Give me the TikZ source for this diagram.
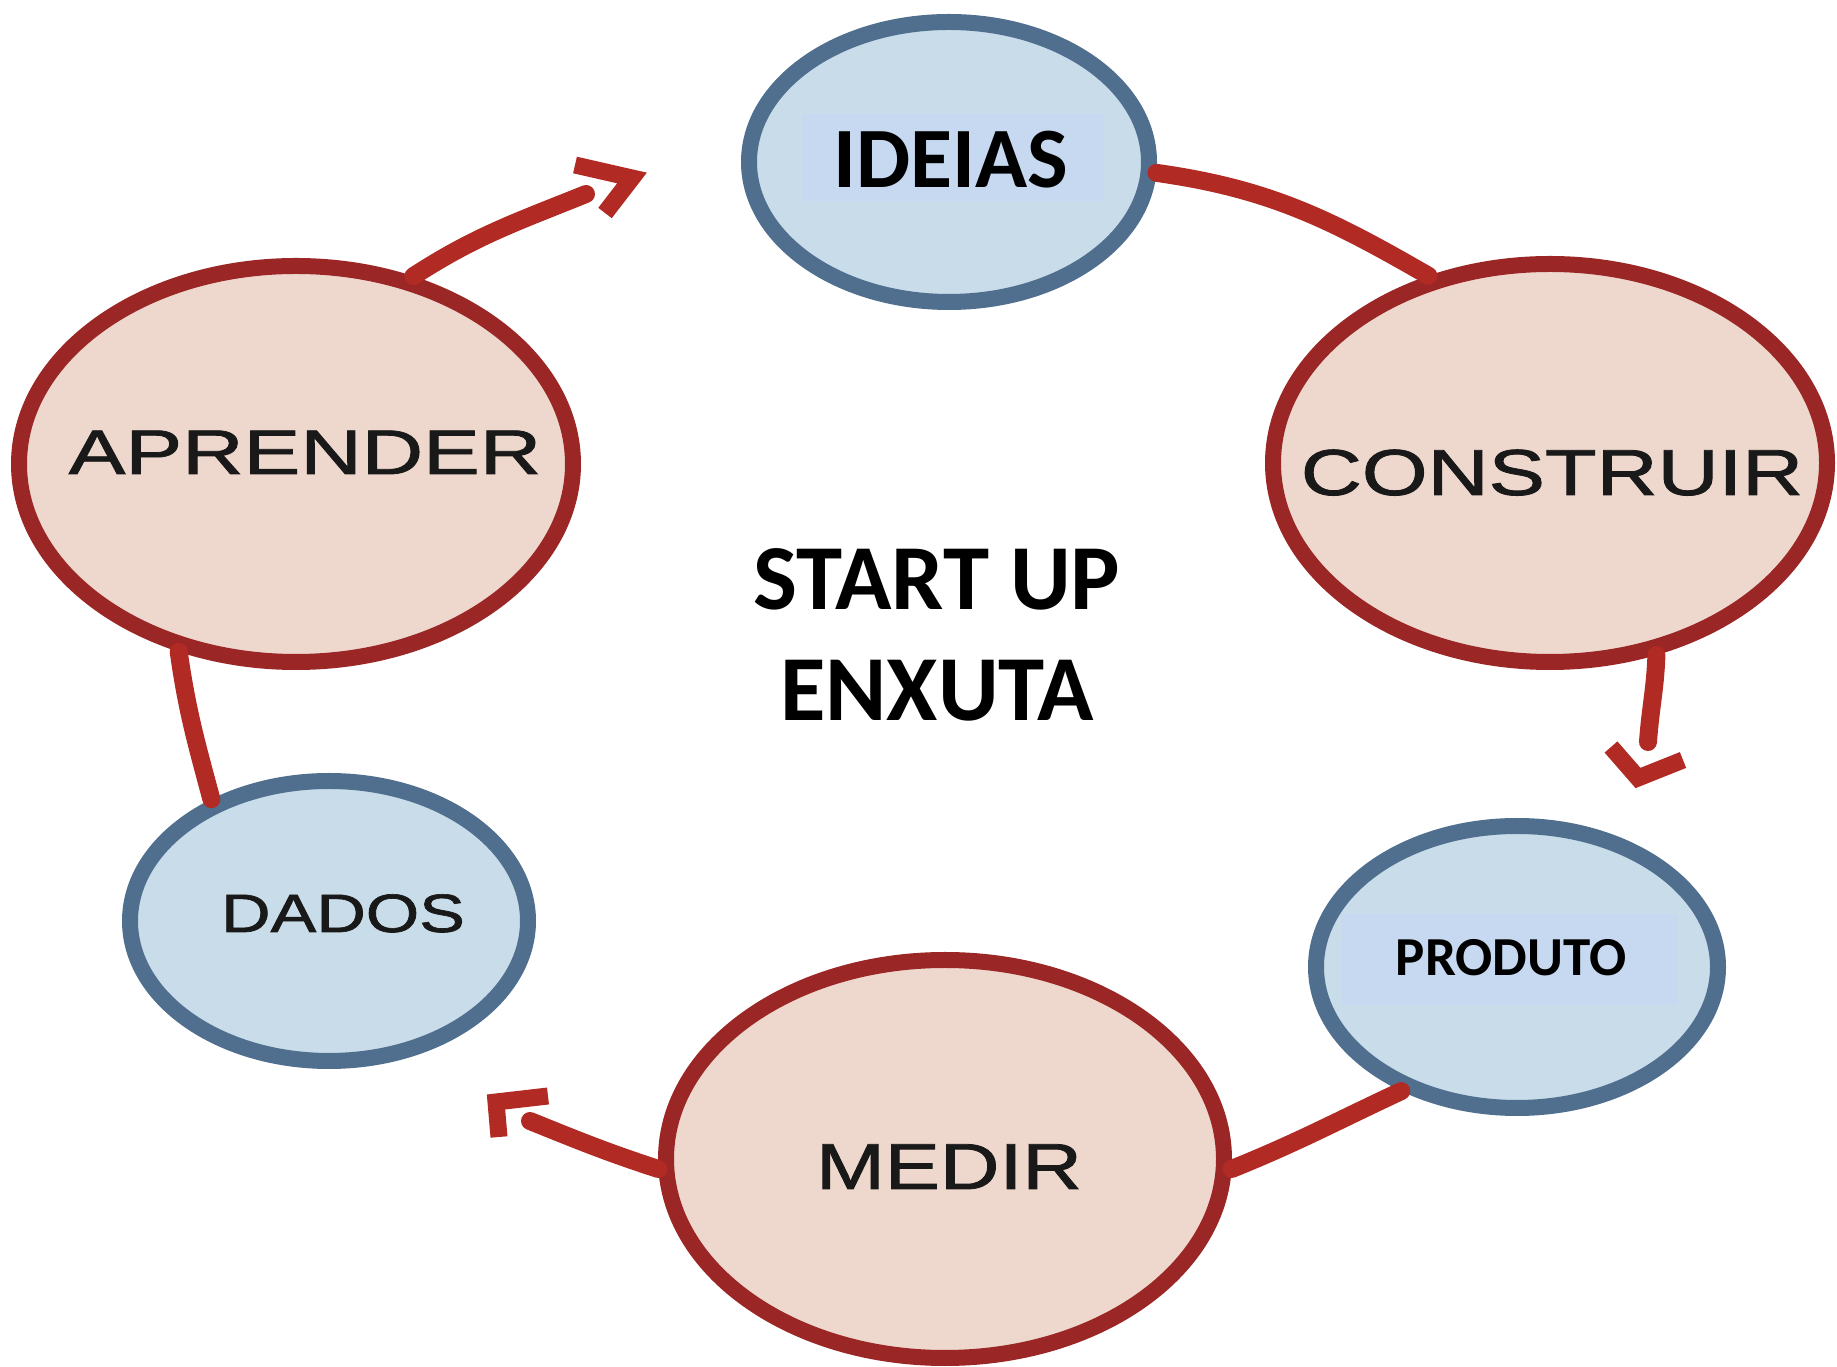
\documentclass[tikz,border=0pt]{standalone}
\usepackage{fontspec}
\setmainfont{Carlito}
\newfontfamily\widefont[FakeBold=1.2]{Liberation Sans}
\usetikzlibrary{shapes.geometric}
\definecolor{redfill}{HTML}{EED8CD}
\definecolor{redline}{HTML}{9B2626}
\definecolor{bluefill}{HTML}{C8DCE9}
\definecolor{blueline}{HTML}{506E8E}
\definecolor{linkred}{HTML}{B22A24}
\definecolor{labelbg}{HTML}{C6D9F0}
\begin{document}
\begin{tikzpicture}[x=1pt,y=1pt,
  redell/.style={ellipse,draw=redline,fill=redfill,line width=16pt,inner sep=0pt},
  blueell/.style={ellipse,draw=blueline,fill=bluefill,line width=16pt,inner sep=0pt},
  link/.style={draw=linkred,line width=18pt,line cap=round},
  chevron/.style={draw=linkred,line width=17pt,line cap=butt,line join=miter},
  boldlabel/.style={font=\bfseries,text=black,inner sep=0pt,anchor=base},
  widelabel/.style={text=black!90,inner sep=0pt,anchor=base},
  labelbox/.style={fill=labelbg,inner sep=0pt}
]
\useasboundingbox (0,0) rectangle (1837,1366);

% stage ellipses
\node[blueell,minimum width=400pt,minimum height=280pt] (ideias) at (949,1204) {};
\node[redell,minimum width=554pt,minimum height=398pt] (construir) at (1550,903) {};
\node[blueell,minimum width=402pt,minimum height=282pt] (produto) at (1517,399) {};
\node[redell,minimum width=558pt,minimum height=398pt] (medir) at (945,207) {};
\node[blueell,minimum width=398pt,minimum height=280pt] (dados) at (329,445) {};
\node[redell,minimum width=554pt,minimum height=396pt] (aprender) at (296,902) {};

% shaded boxes behind the bold labels
\node[labelbox,minimum width=302pt,minimum height=87pt] (ideiasbg) at (953,1208) {};
\node[labelbox,minimum width=337pt,minimum height=91pt] (produtobg) at (1509,406) {};

% labels
\node[boldlabel] (tideias) at (951,1178) {\fontsize{86}{90}\selectfont IDEIAS};
\node[boldlabel] (tproduto) at (1511,390) {\fontsize{55}{60}\selectfont PRODUTO};
\node[boldlabel] (tstart) at (937,756) {\fontsize{93}{100}\selectfont START UP};
\node[boldlabel] (tenxuta) at (937,645) {\fontsize{93}{100}\selectfont ENXUTA};
\node[widelabel] (taprender) at (305,892) {\scalebox{1.35}[1]{\widefont\fontsize{63}{70}\selectfont APRENDER}};
\node[widelabel] (tconstruir) at (1552,871) {\scalebox{1.30}[1]{\widefont\fontsize{65}{70}\selectfont CONSTRUIR}};
\node[widelabel] (tmedir) at (949,177) {\scalebox{1.27}[1]{\widefont\fontsize{65}{70}\selectfont MEDIR}};
\node[widelabel] (tdados) at (343,434) {\scalebox{1.27}[1]{\widefont\fontsize{54}{60}\selectfont DADOS}};

% free ends of the arrowed links and their open chevron heads
\coordinate (endA) at (1648,624);
\coordinate (tipA) at (1638,588);
\coordinate (tipA1) at (1611,619);
\coordinate (tipA2) at (1683,606);
\coordinate (endB) at (530,245);
\coordinate (tipB) at (496,264);
\coordinate (tipB1) at (548,270);
\coordinate (tipB2) at (499,229);
\coordinate (endC) at (586,1172);
\coordinate (tipC) at (632,1188);
\coordinate (tipC1) at (575,1201);
\coordinate (tipC2) at (605,1153);

% cycle links
\draw[link] (ideias.-3) to[out=-8,in=150] (construir.123);
\draw[link] (construir.-61) to[out=-92,in=86] (endA);
\draw[chevron] (tipA1) -- (tipA) -- (tipA2);
\draw[link] (produto.-133) to[out=-155,in=22] (medir.-2);
\draw[link] (medir.182) to[out=162,in=-22] (endB);
\draw[chevron] (tipB1) -- (tipB) -- (tipB2);
\draw[link] (dados.134) to[out=105,in=-82] (aprender.238);
\draw[link] (aprender.58) to[out=33,in=-158] (endC);
\draw[chevron] (tipC1) -- (tipC) -- (tipC2);
\end{tikzpicture}
\end{document}
